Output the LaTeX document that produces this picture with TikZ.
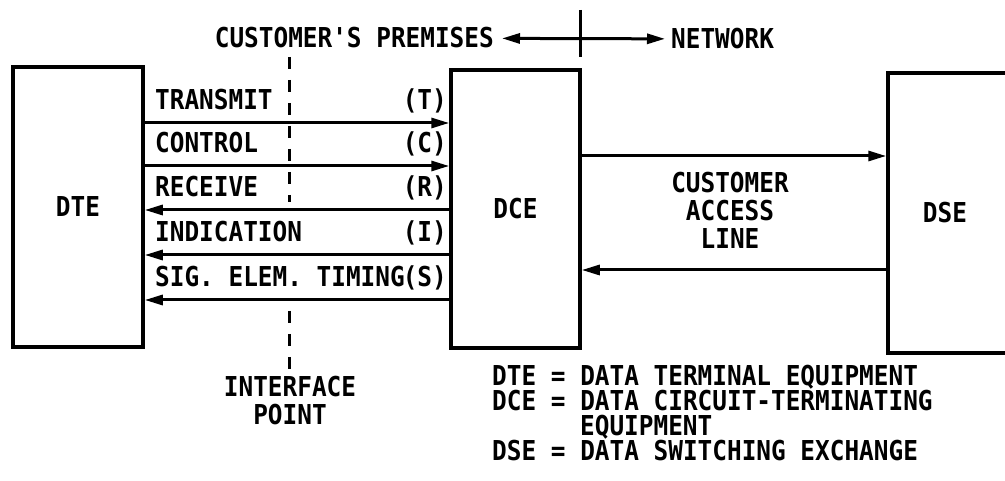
\documentclass[tikz,border=0pt]{standalone}
\usepackage{fontspec}
\setmonofont{DejaVu Sans Mono}[FakeStretch=0.89]
\usetikzlibrary{arrows.meta,positioning,calc}
\tikzset{
  base/.style={font=\ttfamily\bfseries\fontsize{27.4}{28}\selectfont, inner sep=0pt},
  blk/.style={base, rectangle, draw, line width=3.5pt},
  sig/.style={line width=3pt, -{Triangle[length=18pt,width=10pt]}},
  sig2/.style={line width=3pt, {Triangle[length=18pt,width=10pt]}-{Triangle[length=18pt,width=10pt]}},
  ifc/.style={line width=3pt, dash pattern=on 12pt off 11pt},
  lbl/.style={base, anchor=base west},
  tag/.style={base, anchor=base east},
  key/.style={base, anchor=base west},
}
\begin{document}
\begin{tikzpicture}[x=1pt,y=-1pt]
  \clip (0,0) rectangle (1005,481);
  \fill[white] (0,0) rectangle (1005,481);
  % equipment
  \node[blk,minimum width=130pt,minimum height=280pt] (dte) at (78,207) {DTE};
  \node[blk,minimum width=129pt,minimum height=278pt] (dce) at (515.5,209) {DCE};
  \node[blk,minimum width=212pt,minimum height=280pt,label={[base,xshift=-49pt]center:DSE}] (dse) at (994,213) {};
  % interface point
  \coordinate (ifTop) at (289,57);
  \coordinate (ifA) at (289,202);
  \coordinate (ifB) at (289,311);
  \coordinate (ifBot) at (289,378);
  \draw[ifc] (ifTop) -- (ifA) (ifB) -- (ifBot);
  \node[base,align=center] (ipt) at (290,401) {INTERFACE\\POINT};
  % interchange circuits
  \foreach \y/\t/\c in {123/TRANSMIT/T,166/CONTROL/C,210/RECEIVE/R,255/INDICATION/I,300/{SIG. ELEM. TIMING}/S}{
    \node[lbl] (l\c) at (155,\y-13) {\t};
    \node[tag] (t\c) at (447,\y-13) {(\c)};
  }
  \foreach \y in {123,166}{\draw[sig] (dte.east |- 0,\y) -- (dce.west |- 0,\y);}
  \foreach \y in {210,255,300}{\draw[sig] (dce.west |- 0,\y) -- (dte.east |- 0,\y);}
  % premises / network boundary
  \node[base,anchor=east,inner xsep=8pt] (prem) at (502,38) {CUSTOMER'S PREMISES};
  \node[base,anchor=west,inner xsep=6pt] (netw) at (665,39) {NETWORK};
  \draw[sig2] (prem) -- (netw);
  \coordinate (bTop) at (580,10);
  \coordinate (bBot) at (580,57);
  \draw[line width=3pt] (bTop) -- (bBot);
  % access line
  \draw[sig] (dce.east |- 0,156) -- (dse.west |- 0,156);
  \draw[sig] (dse.west |- 0,270) -- (dce.east |- 0,270);
  \node[base,align=center] (cal) at (730,210) {CUSTOMER\\ACCESS\\LINE};
  % legend
  \node[key] (k1) at (492,385) {DTE = DATA TERMINAL EQUIPMENT};
  \node[key] (k2) at (492,410) {DCE = DATA CIRCUIT-TERMINATING};
  \node[key] (k3) at (580,435) {EQUIPMENT};
  \node[key] (k4) at (492,460) {DSE = DATA SWITCHING EXCHANGE};
\end{tikzpicture}
\end{document}
